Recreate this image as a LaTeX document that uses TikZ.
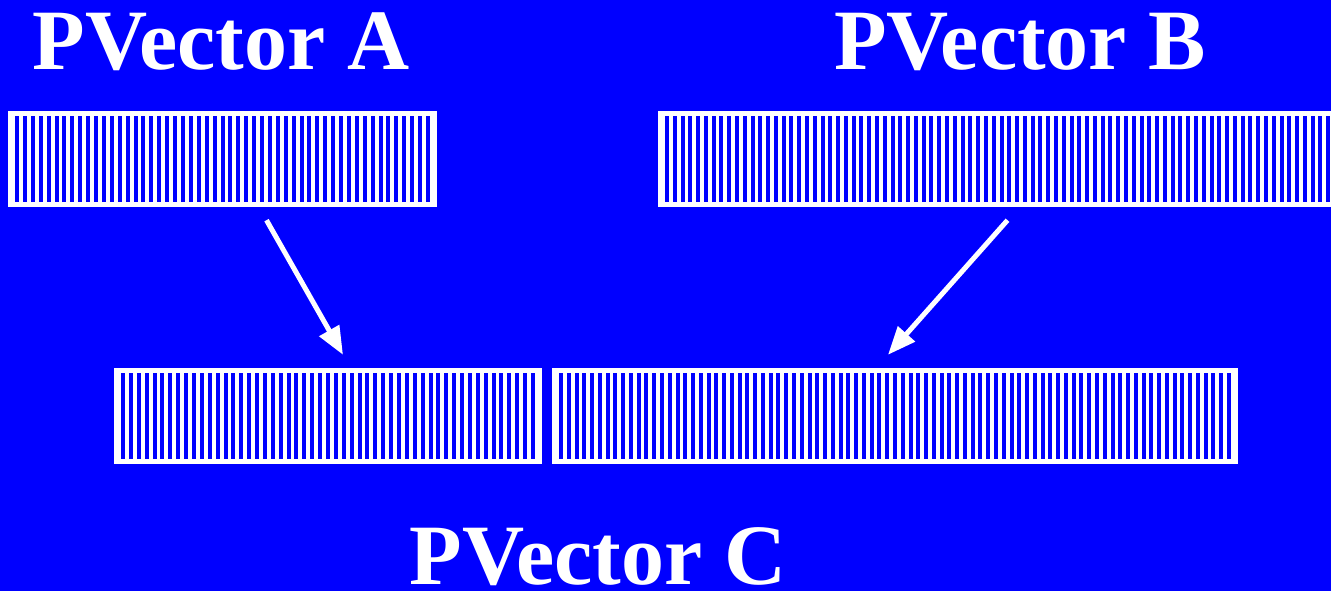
\documentclass[tikz,border=0pt]{standalone}
\usepackage{fontspec}
\setmainfont{Liberation Serif}
\usetikzlibrary{arrows.meta,calc}
\definecolor{pvBlue}{HTML}{0000FF}
\tikzset{
  pvBox/.style={draw=none,fill=white,inner sep=0pt,minimum height=96pt},
  pvTitle/.style={text=white,anchor=base,inner sep=0pt,
    font=\bfseries\fontsize{86}{86}\selectfont},
  pvArrow/.style={draw=white,line width=5pt,
    -{Triangle[length=28pt,width=22pt]}}
}
% one striped vector: name, left, right, top (pixels)
\newcommand{\pvbar}[4]{%
  \node[pvBox,minimum width={#3-#2}] (#1) at ({(#2+#3)/2},{#4+48}) {};
  \pgfmathtruncatemacro{\nstripes}{(#3-#2-14)/7.7}
  \pgfmathsetmacro{\pitch}{(#3-#2-18)/(\nstripes-1)}
  \foreach \i in {1,...,\nstripes}
    \fill[pvBlue] ({#2+7+(\i-1)*\pitch},{#4+5}) rectangle ++(4,86);
}

\begin{document}
\begin{tikzpicture}[x=1pt,y=-1pt]
\fill[pvBlue] (0,0) rectangle (1331,591);
\useasboundingbox (0,0) rectangle (1331,591);
\node[pvTitle] (titleA) at (221,70) {PVector A};
\node[pvTitle] (titleB) at (1020,70) {PVector B};
\node[pvTitle] (titleC) at (598,584) {PVector C};
\pvbar{vecA}{8}{437}{111}
\pvbar{vecB}{658}{1345}{111}
\pvbar{vecCa}{114}{542}{368}
\pvbar{vecCb}{552}{1238}{368}
\draw[pvArrow] ([xshift=44pt,yshift=-13pt]vecA.south) --
  ([xshift=15pt,yshift=13pt]vecCa.north);
\draw[pvArrow] ([xshift=6pt,yshift=-13pt]vecB.south) --
  ([xshift=-7pt,yshift=13pt]vecCb.north);
\end{tikzpicture}
\end{document}
